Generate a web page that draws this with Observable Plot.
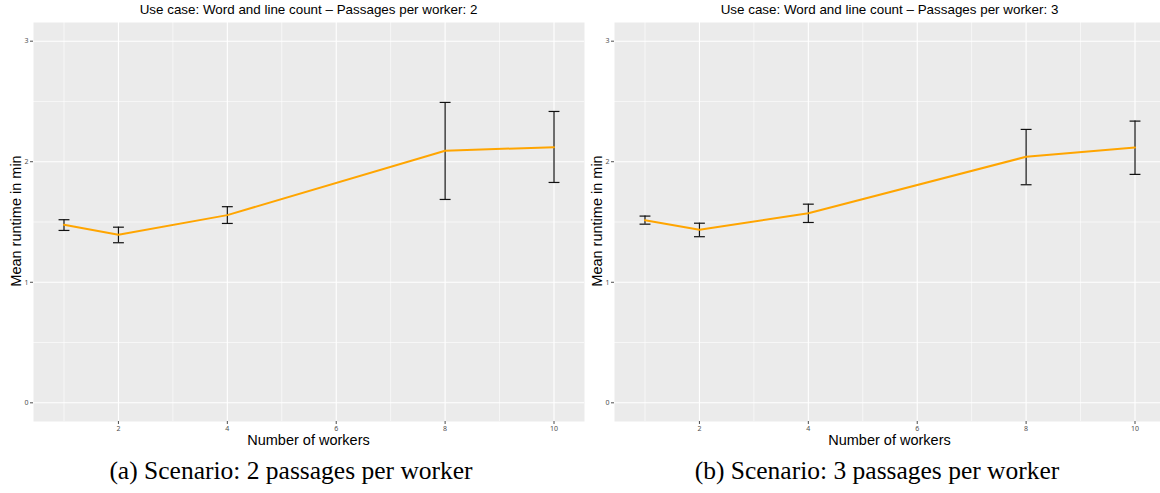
<!DOCTYPE html>
<html>
<head>
<meta charset="utf-8">
<script src="https://cdn.jsdelivr.net/npm/d3@7"></script>
<script src="https://cdn.jsdelivr.net/npm/@observablehq/plot@0.6"></script>
<style>
  html, body { margin: 0; padding: 0; background: #fff; }
  #wrap { position: relative; width: 1160px; height: 493px; overflow: hidden; }
  .panel { position: absolute; top: 0; }
  .title { position: absolute; top: 2px; font-family: "Liberation Sans", Arial, sans-serif; font-size: 13.4px; color: #000; white-space: nowrap; transform: translateX(-50%); }
  .xlab { position: absolute; top: 433px; line-height: 1; font-family: "Liberation Sans", Arial, sans-serif; font-size: 14.5px; color: #000; white-space: nowrap; transform: translateX(-50%); }
  .ylab { position: absolute; line-height: 1; font-family: "Liberation Sans", Arial, sans-serif; font-size: 14.5px; color: #000; white-space: nowrap; transform: translate(-50%, -50%) rotate(-90deg); }
  .cap { position: absolute; top: 458px; line-height: 1; font-family: "Liberation Serif", "DejaVu Serif", serif; font-size: 25.5px; color: #000; white-space: nowrap; transform: translateX(-50%); }
</style>
</head>
<body>
<div id="wrap"></div>
<script>
const workers = [1, 2, 4, 8, 10];
const mean2 = [1.477, 1.394, 1.557, 2.091, 2.121];
const lo2   = [1.430, 1.328, 1.488, 1.687, 1.828];
const hi2   = [1.519, 1.457, 1.627, 2.492, 2.417];
const mean3 = [1.515, 1.436, 1.573, 2.041, 2.119];
const lo3   = [1.482, 1.378, 1.496, 1.809, 1.895];
const hi3   = [1.549, 1.490, 1.648, 2.268, 2.337];
const xTicks = [2, 4, 6, 8, 10];
const xMinor = [1, 3, 5, 7, 9];
const yTicks = [0, 1, 2, 3];
const yMinor = [0.5, 1.5, 2.5];
const titles = ["Use case: Word and line count – Passages per worker: 2",
                "Use case: Word and line count – Passages per worker: 3"];
const captions = ["(a) Scenario: 2 passages per worker", "(b) Scenario: 3 passages per worker"];
const errW = 0.2;

const wrap = document.getElementById("wrap");

function panel(means, los, his) {
  const data = workers.map((w, i) => ({w, m: means[i], lo: los[i], hi: his[i]}));
  return Plot.plot({
    width: 590,
    height: 435,
    marginLeft: 33,
    marginRight: 6,
    marginTop: 22,
    marginBottom: 14,
    x: {domain: [0.44, 10.56]},
    y: {domain: [-0.155, 3.155]},
    style: {background: "transparent", overflow: "visible"},
    marks: [
      Plot.frame({fill: "#EBEBEB", stroke: null}),
      Plot.ruleY(yMinor, {stroke: "#fff", strokeWidth: 0.6}),
      Plot.ruleX(xMinor, {stroke: "#fff", strokeWidth: 0.6}),
      Plot.ruleY(yTicks, {stroke: "#fff", strokeWidth: 1.1}),
      Plot.ruleX(xTicks, {stroke: "#fff", strokeWidth: 1.1}),
      Plot.axisY({ticks: yTicks, tickSize: 3, tickPadding: 2, fontSize: 7, color: "#4D4D4D", label: null, tickFormat: d3.format("d")}),
      Plot.axisX({ticks: xTicks, tickSize: 3, tickPadding: 2, fontSize: 7, color: "#4D4D4D", label: null, tickFormat: d3.format("d")}),
      Plot.ruleX(data, {x: "w", y1: "lo", y2: "hi", stroke: "#111", strokeWidth: 1.2}),
      Plot.link(data, {x1: d => d.w - errW / 2, x2: d => d.w + errW / 2, y1: "lo", y2: "lo", stroke: "#111", strokeWidth: 1.2}),
      Plot.link(data, {x1: d => d.w - errW / 2, x2: d => d.w + errW / 2, y1: "hi", y2: "hi", stroke: "#111", strokeWidth: 1.2}),
      Plot.line(data, {x: "w", y: "m", stroke: "#FFA500", strokeWidth: 2})
    ]
  });
}

const sets = [[mean2, lo2, hi2], [mean3, lo3, hi3]];
const offsets = [0, 581];
const capCenters = [291, 877];
sets.forEach((s, i) => {
  const svg = panel(...s);
  svg.classList.add("panel");
  svg.style.left = offsets[i] + "px";
  wrap.appendChild(svg);
  const cx = offsets[i] + 308.5;
  const t = document.createElement("div");
  t.className = "title"; t.textContent = titles[i]; t.style.left = cx + "px";
  wrap.appendChild(t);
  const xl = document.createElement("div");
  xl.className = "xlab"; xl.textContent = "Number of workers"; xl.style.left = cx + "px";
  wrap.appendChild(xl);
  const yl = document.createElement("div");
  yl.className = "ylab"; yl.textContent = "Mean runtime in min";
  yl.style.left = (offsets[i] + 15.5) + "px"; yl.style.top = "221px";
  wrap.appendChild(yl);
  const c = document.createElement("div");
  c.className = "cap"; c.textContent = captions[i]; c.style.left = capCenters[i] + "px";
  wrap.appendChild(c);
});
</script>
</body>
</html>
